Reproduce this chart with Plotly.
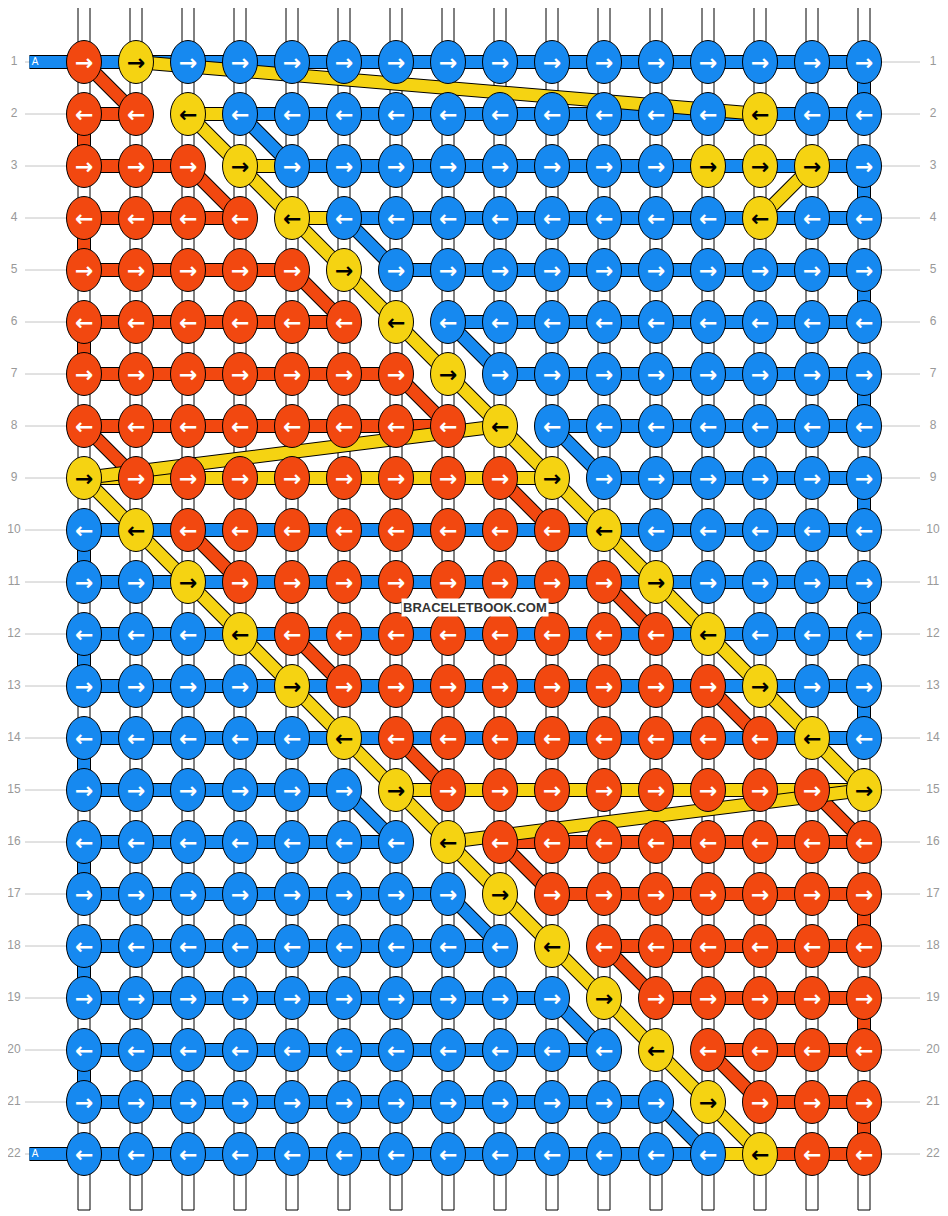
import plotly.graph_objects as go

# knot colours per row, left to right: O orange, Y yellow, B blue
rows = [
    "OYBBBBBBBBBBBBBB",
    "OOYBBBBBBBBBBYBB",
    "OOOYBBBBBBBBYYYB",
    "OOOOYBBBBBBBBYBB",
    "OOOOOYBBBBBBBBBB",
    "OOOOOOYBBBBBBBBB",
    "OOOOOOOYBBBBBBBB",
    "OOOOOOOOYBBBBBBB",
    "YOOOOOOOOYBBBBBB",
    "BYOOOOOOOOYBBBBB",
    "BBYOOOOOOOOYBBBB",
    "BBBYOOOOOOOOYBBB",
    "BBBBYOOOOOOOOYBB",
    "BBBBBYOOOOOOOOYB",
    "BBBBBBYOOOOOOOOY",
    "BBBBBBBYOOOOOOOO",
    "BBBBBBBBYOOOOOOO",
    "BBBBBBBBBYOOOOOO",
    "BBBBBBBBBBYOOOOO",
    "BBBBBBBBBBBYOOOO",
    "BBBBBBBBBBBBYOOO",
    "BBBBBBBBBBBBBYOO",
]
# horizontal thread between neighbouring knots in each row ('-' = none)
hthreads = [
    "BBBBBBBBBBBBBBB",
    "O-YBBBBBBBBBBBB",
    "OO-YBBBBBBBBBBB",
    "OOO-YBBBBBBBBBB",
    "OOOO--BBBBBBBBB",
    "OOOOO--BBBBBBBB",
    "OOOOOO--BBBBBBB",
    "OOOOOOO--BBBBBB",
    "YYYYYYYYY-BBBBB",
    "BBBBBBBBBBBBBBB",
    "BBBBBBBBBBBBBBB",
    "BBBBBBBBBBBBBBB",
    "BBBBBBBBBBBBBBB",
    "BBBBBBBBBBBBBBB",
    "BBBBB-YYYYYYYYY",
    "BBBBBB--OOOOOOO",
    "BBBBBBB--OOOOOO",
    "BBBBBBBB--OOOOO",
    "BBBBBBBBB--OOOO",
    "BBBBBBBBBB--OOO",
    "BBBBBBBBBBB--OO",
    "BBBBBBBBBBBBYOO",
]
# yellow thread paths, (row, col) 1-based
yellow_paths = [
    [(1, 2), (2, 14)],
    [(2, 3), (3, 4), (4, 5), (5, 6), (6, 7), (7, 8), (8, 9), (9, 10), (10, 11),
     (11, 12), (12, 13), (13, 14), (14, 15), (15, 16), (16, 8), (17, 9), (18, 10),
     (19, 11), (20, 12), (21, 13), (22, 14)],
    [(3, 15), (4, 14)],
    [(8, 9), (9, 1), (10, 2), (11, 3), (12, 4), (13, 5), (14, 6), (15, 7), (16, 8)],
]
# down-right diagonal threads start knots
orange_diag = [(1, 1), (3, 3), (5, 5), (7, 7), (8, 1), (9, 9), (10, 3), (11, 11),
               (12, 5), (13, 13), (14, 7), (15, 15), (16, 9), (18, 11), (20, 13)]
blue_diag = [(2, 4), (4, 6), (6, 8), (8, 10), (15, 6), (17, 8), (19, 10), (21, 12)]
row_labels = [str(i + 1) for i in range(len(rows))]

pal = {"O": "#f24810", "Y": "#f5d312", "B": "#1689f0"}
ncol, nrow = len(rows[0]), len(rows)
X0, Y0, DX, DY = 84, 62, 52, 52
def px(c): return X0 + c * DX
def py(r): return Y0 + r * DY

fig = go.Figure()
shapes = []
for c in range(ncol):
    shapes.append(dict(type="rect", x0=px(c) - 6, x1=px(c) + 6, y0=6, y1=1210,
                       fillcolor="white", line=dict(color="black", width=1), layer="below"))
for r in range(nrow):
    shapes.append(dict(type="line", x0=25, x1=px(0), y0=py(r), y1=py(r),
                       line=dict(color="#c4c4c4", width=1), layer="below"))
    shapes.append(dict(type="line", x0=px(ncol - 1), x1=920, y0=py(r), y1=py(r),
                       line=dict(color="#c4c4c4", width=1), layer="below"))

segs = {k: ([], []) for k in pal}
def seg(col, a, b):
    xs, ys = segs[col]
    xs += [px(a[1]), px(b[1]), None]
    ys += [py(a[0]), py(b[0]), None]

for r in range(nrow):
    for c, k in enumerate(hthreads[r]):
        if k != "-":
            seg(k, (r, c), (r, c + 1))
    for c in (0, ncol - 1):
        # edge turns
        if r + 1 < nrow and rows[r][c] == rows[r + 1][c] and (r % 2 == 1) == (c == 0):
            seg(rows[r][c], (r, c), (r + 1, c))
for r, c in orange_diag:
    seg("O", (r - 1, c - 1), (r, c))
for r, c in blue_diag:
    seg("B", (r - 1, c - 1), (r, c))
for r in (0, nrow - 1):
    seg("B", (r, -1.05), (r, 0))

for k in ["B", "O", "Y"]:
    xs, ys = segs[k]
    fig.add_trace(go.Scatter(x=xs, y=ys, mode="lines", hoverinfo="skip",
                             line=dict(color="black", width=14)))
    fig.add_trace(go.Scatter(x=xs, y=ys, mode="lines", hoverinfo="skip",
                             line=dict(color=pal[k], width=12)))
for path in yellow_paths:
    xs = [px(c - 1) for r, c in path]
    ys = [py(r - 1) for r, c in path]
    fig.add_trace(go.Scatter(x=xs, y=ys, mode="lines", hoverinfo="skip",
                             line=dict(color="black", width=14)))
    fig.add_trace(go.Scatter(x=xs, y=ys, mode="lines", hoverinfo="skip",
                             line=dict(color=pal["Y"], width=12)))

for r in range(nrow):
    for c in range(ncol):
        k = rows[r][c]
        shapes.append(dict(type="circle", x0=px(c) - 17.5, x1=px(c) + 17.5,
                           y0=py(r) - 21.5, y1=py(r) + 21.5,
                           fillcolor=pal[k], line=dict(color="black", width=1)))
        fig.add_annotation(x=px(c), y=py(r), showarrow=False,
                           text="<b>→</b>" if r % 2 == 0 else "<b>←</b>",
                           font=dict(size=22, family="DejaVu Sans",
                                     color="black" if k == "Y" else "white"))
fig.update_layout(shapes=shapes)

ly = [py(r) for r in range(nrow)]
fig.add_trace(go.Scatter(x=[14] * nrow, y=ly, mode="text", text=row_labels,
                         textfont=dict(size=12, color="#999999", family="Arial")))
fig.add_trace(go.Scatter(x=[933] * nrow, y=ly, mode="text", text=row_labels,
                         textfont=dict(size=12, color="#999999", family="Arial")))
fig.add_trace(go.Scatter(x=[35, 35], y=[py(0), py(nrow - 1)], mode="text", text=["A", "A"],
                         textfont=dict(size=10, color="white", family="Arial")))
fig.add_annotation(x=475, y=607, text="<b>BRACELETBOOK.COM</b>", showarrow=False,
                   font=dict(size=13, color="#333333", family="Arial"), bgcolor="white")

fig.update_layout(width=948, height=1216, margin=dict(l=0, r=0, t=0, b=0),
                  plot_bgcolor="white", paper_bgcolor="white", showlegend=False,
                  xaxis=dict(range=[8, 956], visible=False, fixedrange=True),
                  yaxis=dict(range=[1224, 8], visible=False, fixedrange=True))
fig.write_html("out.html")
